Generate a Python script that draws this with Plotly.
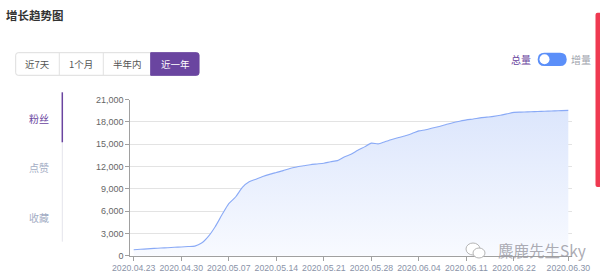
import plotly.graph_objects as go
import pandas as pd

# ---------------- data ----------------
all_days = pd.date_range("2020-04-23", "2020-06-30")
missing_days = ["2020.06.13", "2020.06.14", "2020.06.20", "2020.06.21"]
dates = [d.strftime("%Y.%m.%d") for d in all_days if d.strftime("%Y.%m.%d") not in missing_days]

fans = [800, 860, 920, 980, 1030, 1080, 1130, 1180, 1230, 1290,
        1700, 2600, 3900, 5500, 7000, 7900, 9200, 9950, 10300, 10650,
        10950, 11200, 11450, 11750, 11950, 12100, 12250, 12350, 12450, 12650,
        12800, 13300, 13650, 14200, 14650, 15150, 15050, 15350, 15650, 15900,
        16150, 16450, 16800, 16950, 17200, 17400, 17650, 17900, 18100, 18280,
        18400, 18550, 18650, 18750, 18900, 19100, 19300, 19330, 19360, 19400,
        19430, 19460, 19500, 19530, 19560]

tick_labels = ["2020.04.23", "2020.04.30", "2020.05.07", "2020.05.14", "2020.05.21",
               "2020.05.28", "2020.06.04", "2020.06.11", "2020.06.22", "2020.06.30"]
y_ticks = [0, 3000, 6000, 9000, 12000, 15000, 18000, 21000]

period_buttons = ["近7天", "1个月", "半年内", "近一年"]
side_tabs = ["粉丝", "点赞", "收藏"]

W, H = 600, 277
CJK = "Noto Sans CJK SC, sans-serif"
PURPLE = "#6a45a0"


def px(x):
    return x / W


def py(y):
    return 1 - y / H


def rrect(x0, y0, x1, y1, r, rl=True, rr=True):
    rx, ry = r / W, r / H
    X0, X1 = px(x0), px(x1)
    Y0, Y1 = py(y0), py(y1)  # Y0 top, Y1 bottom (paper)
    p = []
    if rl:
        p.append(f"M{X0 + rx},{Y0}")
    else:
        p.append(f"M{X0},{Y0}")
    if rr:
        p.append(f"L{X1 - rx},{Y0} Q{X1},{Y0} {X1},{Y0 - ry} L{X1},{Y1 + ry} Q{X1},{Y1} {X1 - rx},{Y1}")
    else:
        p.append(f"L{X1},{Y0} L{X1},{Y1}")
    if rl:
        p.append(f"L{X0 + rx},{Y1} Q{X0},{Y1} {X0},{Y1 + ry} L{X0},{Y0 - ry} Q{X0},{Y0} {X0 + rx},{Y0} Z")
    else:
        p.append(f"L{X0},{Y1} Z")
    return " ".join(p)


def note(x, y, text, size, color, anchor="center"):
    return dict(x=px(x), y=py(y), xref="paper", yref="paper", xanchor=anchor, yanchor="middle",
                text=text, showarrow=False, font=dict(family=CJK, size=size, color=color))


fig = go.Figure()
fig.add_trace(go.Scatter(
    x=dates, y=fans, mode="lines",
    line=dict(color="#8aaaf6", width=1.1, shape="spline", smoothing=0.6),
    fill="tozeroy",
    fillgradient=dict(type="vertical",
                      colorscale=[[0, "rgba(248,250,255,1)"], [1, "rgba(220,230,252,1)"]]),
    hoverinfo="skip", showlegend=False,
))

shapes = []
ann = []

# title
ann.append(note(4, 15, "<b>增长趋势图</b>", 11.5, "#333333", "left"))

# period buttons
shapes.append(dict(type="path", xref="paper", yref="paper", path=rrect(15.7, 52.7, 199, 75.3, 2.5),
                   line=dict(color="#dddddd", width=1), fillcolor="white", layer="above"))
shapes.append(dict(type="path", xref="paper", yref="paper", path=rrect(150.7, 52.7, 199, 75.3, 2.5, rl=False),
                   line=dict(color=PURPLE, width=1), fillcolor=PURPLE, layer="above"))
for xd in [59.3, 103.3]:
    shapes.append(dict(type="line", xref="paper", yref="paper", x0=px(xd), x1=px(xd), y0=py(53), y1=py(75),
                       line=dict(color="#e2e2e2", width=1), layer="above"))
btn_centers = [37.5, 81.3, 127, 175]
for lab, cx in zip(period_buttons, btn_centers):
    ann.append(note(cx, 64, lab, 9.5, "white" if lab == "近一年" else "#555555"))

# toggle
ann.append(note(520.5, 59.3, "总量", 10, PURPLE))
ann.append(note(581, 59.3, "增量", 10, "#a0a4ad"))
shapes.append(dict(type="path", xref="paper", yref="paper", path=rrect(537.7, 52.7, 566.7, 66, 6.6),
                   line=dict(width=0), fillcolor="#5b8ff9", layer="above"))
shapes.append(dict(type="circle", xref="paper", yref="paper", x0=px(539.5), x1=px(549.5), y0=py(54.3), y1=py(64.3),
                   line=dict(width=0), fillcolor="white", layer="above"))

# red bar right edge
shapes.append(dict(type="path", xref="paper", yref="paper", path=rrect(595.5, 12.7, 601, 187, 2),
                   line=dict(width=0), fillcolor="#ef3a51", layer="above"))

# side tabs
shapes.append(dict(type="line", xref="paper", yref="paper", x0=px(62.3), x1=px(62.3), y0=py(142.3), y1=py(241.7),
                   line=dict(color="#e4e4ec", width=1)))
shapes.append(dict(type="line", xref="paper", yref="paper", x0=px(62.3), x1=px(62.3), y0=py(92.3), y1=py(142.3),
                   line=dict(color=PURPLE, width=1.5)))
tab_y = [118.3, 167.7, 217.3]
for lab, ty in zip(side_tabs, tab_y):
    ann.append(note(39.3, ty, lab, 10, PURPLE if lab == "粉丝" else "#a3adc4"))

# watermark
shapes.append(dict(type="circle", xref="paper", yref="paper", x0=px(466), x1=px(480), y0=py(243), y1=py(255),
                   line=dict(color="#b5b5b5", width=1), fillcolor="white", layer="above"))
shapes.append(dict(type="circle", xref="paper", yref="paper", x0=px(473), x1=px(485), y0=py(248), y1=py(258),
                   line=dict(color="#b5b5b5", width=1), fillcolor="white", layer="above"))
ann.append(note(496, 249.5, "麋鹿先生Sky", 15.5, "rgba(150,150,160,0.8)", "left"))

fig.update_layout(
    width=W, height=H,
    margin=dict(l=0, r=0, t=0, b=0),
    paper_bgcolor="white", plot_bgcolor="white",
    shapes=shapes, annotations=ann,
    xaxis=dict(
        type="category", domain=[px(130.3), px(571.7)], range=[-0.5, len(dates) - 0.5],
        tickmode="array", tickvals=tick_labels, ticktext=tick_labels, tickangle=0,
        automargin=False,
        showgrid=False, showline=True, linecolor="#a0a0a0", linewidth=1,
        ticks="outside", ticklen=4, tickcolor="#a0a0a0",
        tickfont=dict(family="Liberation Sans, Arial, sans-serif", size=8.7, color="#8a93a8"),
        fixedrange=True,
    ),
    yaxis=dict(
        domain=[py(255.7), py(99.7)], range=[0, 21000], automargin=False,
        tickmode="array", tickvals=y_ticks, tickformat=",",
        showgrid=True, gridcolor="#e3e3e3", gridwidth=1, zeroline=False,
        showline=True, linecolor="#a0a0a0", linewidth=1,
        ticks="outside", ticklen=4, tickcolor="#a0a0a0",
        tickfont=dict(family="Liberation Sans, Arial, sans-serif", size=9, color="#666666"),
        fixedrange=True,
    ),
)

fig.write_html("out.html")
